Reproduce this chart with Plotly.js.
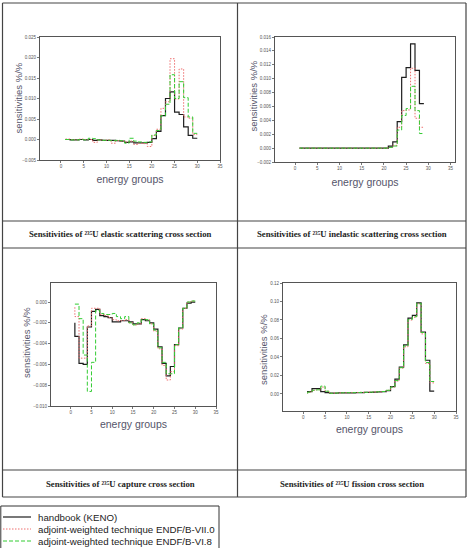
<!DOCTYPE html>
<html><head><meta charset="utf-8">
<script src="https://cdn.plot.ly/plotly-3.0.1.min.js"></script>
<style>html,body{margin:0;padding:0;background:#fff}#chart{width:469px;height:548px}</style>
</head><body><div id="chart"></div>
<script>
// ---------------- DATA ----------------
const groups = [1,2,3,4,5,6,7,8,9,10,11,12,13,14,15,16,17,18,19,20,21,22,23,24,25,26,27,28,29,30];
const groups29 = [1,2,3,4,5,6,7,8,9,10,11,12,13,14,15,16,17,18,19,20,21,22,23,24,25,26,27,28,29];

const seriesNames = ["handbook (KENO)", "adjoint-weighted technique ENDF/B-VII.0", "adjoint-weighted technique ENDF/B-VI.8"];
const captions = [
  "Sensitivities of \u00B2\u00B3\u2075U elastic scattering cross section",
  "Sensitivities of \u00B2\u00B3\u2075U inelastic scattering cross section",
  "Sensitivities of \u00B2\u00B3\u2075U capture cross section",
  "Sensitivities of \u00B2\u00B3\u2075U fission cross section"
];
const xTitle = "energy groups";
const yTitle = "sensitivities %/%";
const xTickVals = [0,5,10,15,20,25,30,35];

// elastic scattering
const elasticKeno = [0.0000,0.0000,-0.0001,-0.0001,0.0000,-0.0001,0.0000,-0.0002,-0.0001,-0.0002,-0.0002,-0.0002,-0.0003,-0.0004,-0.0007,-0.0006,-0.0008,-0.0008,-0.0008,-0.0007,0.0002,0.0020,0.0058,0.0100,0.0116,0.0067,0.0061,0.0031,0.0010,0.0003];
const elasticVII0 = [0.0001,0.0001,0.0000,-0.0001,0.0001,0.0000,0.0000,-0.0007,-0.0001,-0.0002,-0.0001,-0.0009,-0.0003,-0.0004,-0.0006,-0.0004,-0.0012,-0.0009,-0.0010,-0.0017,0.0010,0.0025,0.0076,0.0092,0.0197,0.0099,0.0172,0.0055,0.0052,0.0012];
const elasticVI8 = [0.0001,0.0000,-0.0001,-0.0001,0.0000,-0.0001,0.0003,0.0002,-0.0001,-0.0002,-0.0002,-0.0003,-0.0002,-0.0003,-0.0009,0.0003,-0.0004,-0.0006,-0.0007,-0.0006,0.0011,0.0022,0.0058,0.0086,0.0158,0.0100,0.0141,0.0102,0.0055,0.0015];

// inelastic scattering
const inelasticKeno = [0,0,0,0,0,0,0,0,0,0,0,0,0,0,0,0,0,0,0,0,0,0.0003,0.0009,0.0038,0.0102,0.0116,0.0150,0.0112,0.0064];
const inelasticVII0 = [0,0,0,0,0,0,0,0,0,0,0,0,0,0,0,0,0,0,0,0,0,0.0001,0.0004,0.0030,0.0054,0.0055,0.0115,0.0043,0.0030];
const inelasticVI8 = [0,0,0,0,0,0,0,0,0,0,0,0,0,0,0,0,0,0,0,0,0,0.0001,0.0003,0.0026,0.0047,0.0057,0.0089,0.0054,0.0021];

// capture
const captureKeno = [-0.0020,-0.0033,-0.0059,-0.0060,-0.0024,-0.0009,-0.0007,-0.0013,-0.0014,-0.0015,-0.0019,-0.0019,-0.0018,-0.0018,-0.0019,-0.0021,-0.0021,-0.0017,-0.0018,-0.0020,-0.0026,-0.0043,-0.0059,-0.0071,-0.0062,-0.0041,-0.0025,-0.0006,-0.0001,0.0000];
const captureVII0 = [-0.0005,-0.0014,-0.0054,-0.0054,-0.0023,-0.0006,-0.0006,-0.0012,-0.0013,-0.0015,-0.0017,-0.0018,-0.0018,-0.0017,-0.0020,-0.0022,-0.0021,-0.0016,-0.0017,-0.0021,-0.0028,-0.0045,-0.0061,-0.0075,-0.0067,-0.0042,-0.0026,-0.0006,0.0000,0.0001];
const captureVI8 = [-0.0002,-0.0002,-0.0016,-0.0051,-0.0086,-0.0058,-0.0008,-0.0011,-0.0012,-0.0012,-0.0011,-0.0014,-0.0016,-0.0014,-0.0020,-0.0022,-0.0020,-0.0017,-0.0017,-0.0021,-0.0027,-0.0044,-0.0058,-0.0069,-0.0069,-0.0041,-0.0025,-0.0006,0.0000,0.0001];

// fission
const fissionKeno = [0.0020,0.0025,0.0058,0.0058,0.0025,0.0015,0.0010,0.0010,0.0012,0.0012,0.0013,0.0013,0.0015,0.0015,0.0017,0.0018,0.0020,0.0022,0.0025,0.0035,0.0080,0.0160,0.0290,0.0530,0.0820,0.0850,0.0985,0.0670,0.0365,0.0030];
const fissionVII0 = [0.0005,0.0020,0.0040,0.0045,0.0075,0.0030,0.0008,0.0010,0.0012,0.0013,0.0014,0.0015,0.0016,0.0018,0.0018,0.0020,0.0022,0.0024,0.0027,0.0040,0.0075,0.0140,0.0280,0.0510,0.0800,0.0830,0.0975,0.0650,0.0330,0.0120];
const fissionVI8 = [0.0005,0.0020,0.0040,0.0045,0.0085,0.0030,0.0008,0.0010,0.0012,0.0013,0.0014,0.0015,0.0016,0.0017,0.0018,0.0020,0.0022,0.0024,0.0027,0.0040,0.0075,0.0145,0.0285,0.0520,0.0805,0.0835,0.0980,0.0665,0.0340,0.0135];

// ---------------- LAYOUT / STYLE ----------------
const W = 469, H = 548;
const fx = v => v / W;
const fy = v => 1 - v / H;

const styles = [
  {color: '#1e1e1e', width: 1.2, dash: 'solid'},
  {color: '#ee6f6f', width: 1, dash: '1.5px,1.5px'},
  {color: '#33cc33', width: 1, dash: '4px,2px'}
];

const panels = [
  {x: groups,   s: [elasticKeno, elasticVII0, elasticVI8],       box: [40, 220, 37, 160],  xr: [-4.62, 35], yr: [-0.005, 0.025],  dt: 0.005, fmt: '.3f', yt: [18.5, 98],  xs: 6.5, cap: [120, 234]},
  {x: groups29, s: [inelasticKeno, inelasticVII0, inelasticVI8], box: [275, 455, 37, 162], xr: [-4.5, 36],   yr: [-0.002, 0.016],  dt: 0.002, fmt: '.3f', yt: [252.5, 96], xs: 7.5, cap: [352, 234]},
  {x: groups,   s: [captureKeno, captureVII0, captureVI8],       box: [51, 216, 283, 406], xr: [-4.75, 35], yr: [-0.010, 0.00183], dt: 0.002, fmt: '.3f', yt: [26, 343],  xs: 5.5, cap: [120, 484]},
  {x: groups,   s: [fissionKeno, fissionVII0, fissionVI8],       box: [283, 456, 283, 411], xr: [-4.65, 35], yr: [-0.0184, 0.12], dt: 0.02,  fmt: '.2f', yt: [263, 350], xs: 5.5, cap: [352, 484]}
];

const data = [];
const layout = {
  width: W, height: H,
  margin: {l: 0, r: 0, t: 0, b: 0},
  paper_bgcolor: '#fff', plot_bgcolor: '#fff',
  showlegend: false,
  font: {family: 'Liberation Sans, Arial, sans-serif'},
  shapes: [], annotations: []
};

const axisCommon = {
  showline: true, mirror: true, linecolor: '#555', linewidth: 1,
  ticks: 'outside', ticklen: 2, tickwidth: 0.8, tickcolor: '#555',
  showgrid: false, zeroline: false, automargin: false,
  tickfont: {size: 4.5, color: '#555', family: 'Liberation Sans, Arial, sans-serif'}
};
const titleFontX = {size: 10.5, color: '#55556a', family: 'Liberation Sans, Arial, sans-serif'};
const titleFontY = {size: 9.5, color: '#55556a', family: 'Liberation Sans, Arial, sans-serif'};

panels.forEach((p, i) => {
  const n = i === 0 ? '' : String(i + 1);
  const [l, r, t, b] = p.box;
  layout['xaxis' + n] = Object.assign({}, axisCommon, {
    domain: [fx(l), fx(r)], range: p.xr, anchor: 'y' + n,
    tickmode: 'array', tickvals: xTickVals, ticktext: xTickVals.map(String),
    title: {text: xTitle, font: titleFontX, standoff: p.xs}
  });
  layout['yaxis' + n] = Object.assign({}, axisCommon, {
    domain: [fy(b), fy(t)], range: p.yr, anchor: 'x' + n,
    tick0: 0, dtick: p.dt, tickformat: p.fmt
  });
  p.s.forEach((ys, k) => {
    data.push({
      type: 'scatter', mode: 'lines', x: p.x, y: ys,
      xaxis: 'x' + n, yaxis: 'y' + n, name: seriesNames[k],
      line: {shape: 'vh', color: styles[k].color, width: styles[k].width, dash: styles[k].dash},
      hoverinfo: 'skip'
    });
  });
  layout.annotations.push({
    xref: 'paper', yref: 'paper', x: fx(p.yt[0]), y: fy(p.yt[1]), text: yTitle, textangle: -90,
    showarrow: false, xanchor: 'center', yanchor: 'middle',
    font: titleFontY
  });
  layout.annotations.push({
    xref: 'paper', yref: 'paper', x: fx(p.cap[0]), y: fy(p.cap[1]), text: '<b>' + captions[i] + '</b>',
    showarrow: false, xanchor: 'center', yanchor: 'middle',
    font: {size: 8.7, color: '#222', family: 'Liberation Serif, Times New Roman, serif'}
  });
});

// table frame
const lineStyle = {color: '#444', width: 1.2};
[3, 221, 248, 470, 497].forEach(yv => {
  layout.shapes.push({type: 'line', xref: 'paper', yref: 'paper', x0: fx(2.5), x1: fx(466), y0: fy(yv), y1: fy(yv), line: lineStyle});
});
[2.5, 237.5, 466].forEach(xv => {
  layout.shapes.push({type: 'line', xref: 'paper', yref: 'paper', x0: fx(xv), x1: fx(xv), y0: fy(3), y1: fy(497), line: lineStyle});
});

// legend (manual)
layout.shapes.push({type: 'rect', xref: 'paper', yref: 'paper', x0: fx(0.8), x1: fx(219), y0: fy(506), y1: fy(560), line: {color: '#333', width: 1}, fillcolor: 'rgba(0,0,0,0)'});
const legendRows = [517, 529, 541];
seriesNames.forEach((nm, k) => {
  layout.shapes.push({type: 'line', xref: 'paper', yref: 'paper', x0: fx(3), x1: fx(31), y0: fy(legendRows[k]), y1: fy(legendRows[k]),
    line: {color: styles[k].color, width: styles[k].width, dash: styles[k].dash}});
  layout.annotations.push({
    xref: 'paper', yref: 'paper', x: fx(36), y: fy(legendRows[k]), text: nm,
    showarrow: false, xanchor: 'left', yanchor: 'middle',
    font: {size: 9.7, color: '#222', family: 'Liberation Sans, Arial, sans-serif'}
  });
});

Plotly.newPlot('chart', data, layout, {staticPlot: true, displayModeBar: false});
</script>
</body></html>
